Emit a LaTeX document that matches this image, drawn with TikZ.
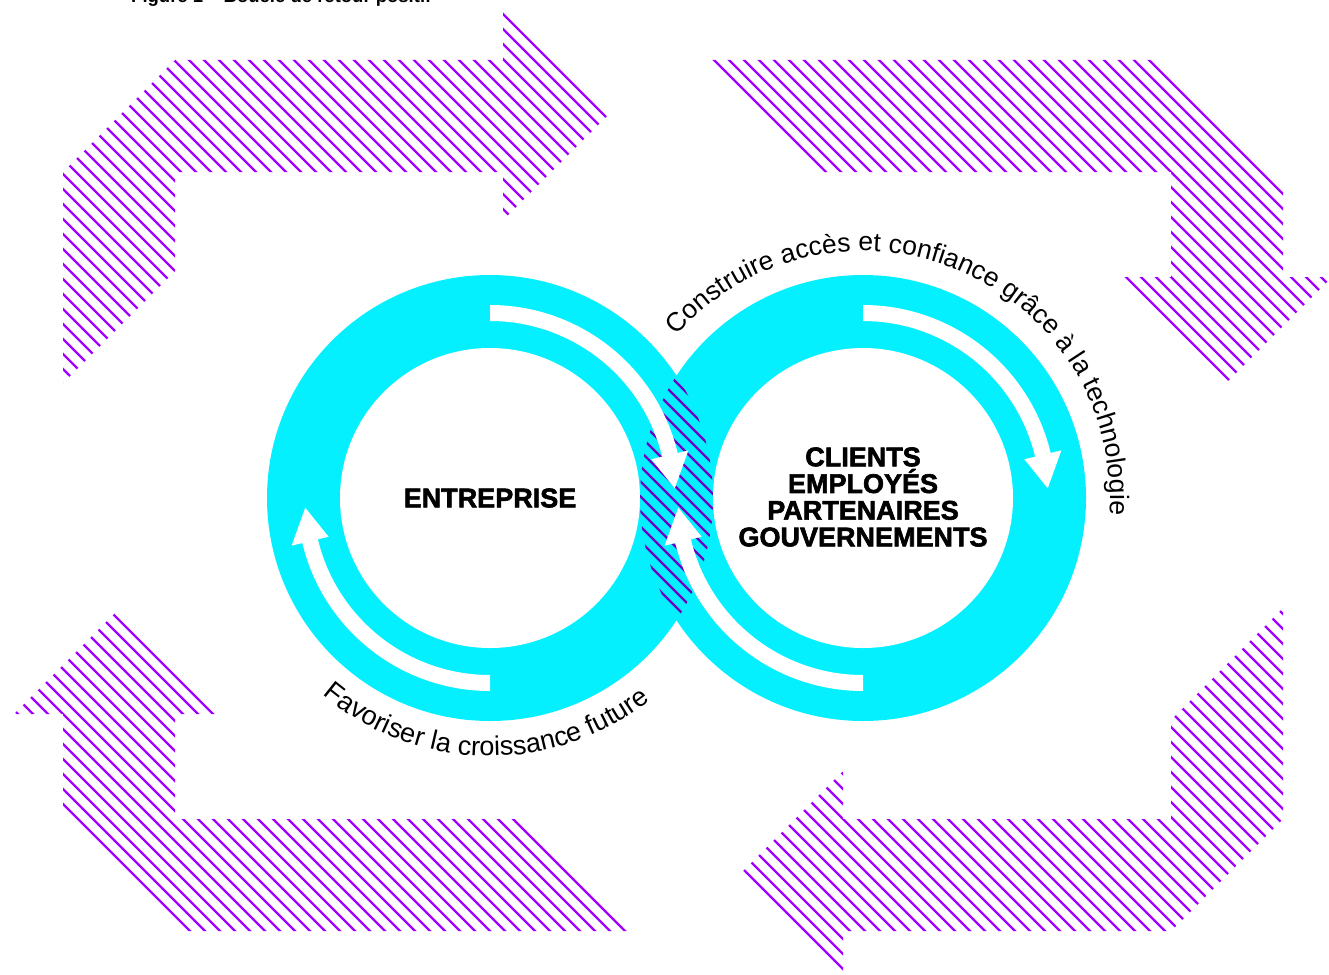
\documentclass[tikz,border=0pt]{standalone}
\usepackage{fontspec}
\setmainfont{Liberation Sans}
\newfontfamily\heavyfont[FakeBold=2.2]{Liberation Sans Bold}
\usetikzlibrary{decorations.text}
\definecolor{loopcyan}{RGB}{5,240,255}
\definecolor{looppurple}{RGB}{161,0,255}
\definecolor{lenspurple}{RGB}{112,0,196}

\begin{document}
\begin{tikzpicture}[x=1pt, y=-1pt,
    hatch/.style={line width=2.2pt},
    ringtext/.style={font=\heavyfont\fontsize{27}{26.7}\selectfont, inner sep=0pt},
    looptext/.style 2 args={decorate, decoration={text along path, text align=center, text={|\fontsize{#1}{#1}\selectfont|#2}}}]
	\useasboundingbox[fill=white] (0,0) rectangle (1329,974);
	% Title, cut off at the top
	\node[anchor=base west, inner sep=0pt, font=\bfseries\fontsize{18.5}{18.5}\selectfont] (title) at (131,3) {Figure 1 – Boucle de retour positif};
	% Hatched arrows
	\begin{scope}
		\clip (63,383) -- (63,172) -- (175,60) -- (503,60) -- (503,12) -- (607,116) -- (503,220) -- (503,172) -- (175,172) -- (175,271) -- cycle
		      (711,60) -- (1160,60) -- (1283,183) -- (1283,277) -- (1332,277) -- (1227,382) -- (1122,277) -- (1171,277) -- (1171,172) -- (823,172) -- cycle
		      (1283,608) -- (1283,819) -- (1171,931) -- (843,931) -- (843,979) -- (739,875) -- (843,771) -- (843,819) -- (1171,819) -- (1171,720) -- cycle
		      (635,931) -- (186,931) -- (63,808) -- (63,714) -- (14,714) -- (119,609) -- (224,714) -- (175,714) -- (175,819) -- (523,819) -- cycle;
		\foreach \k in {-756,-741,...,1120}
			\draw[hatch, looppurple] (\k,0) -- ++(990,990);
	\end{scope}
	% Rings
	\fill[loopcyan] (490,498) circle[radius=223] (863,498) circle[radius=223];
	\fill[white] (490,498) circle[radius=150] (863,498) circle[radius=150];
	% Overlap of the rings
	\begin{scope}
		\clip (490,498) circle[radius=223];
		\clip (863,498) circle[radius=223];
		\foreach \k in {9,24,...,345}
			\draw[hatch, lenspurple] (\k,0) -- ++(990,990);
	\end{scope}
	% White arrows in the rings
	\foreach \cx in {490,863}
		\foreach \turn in {0,180}
			\fill[white, shift={(\cx,498)}, rotate=\turn] (-90:193) arc[start angle=-90, end angle=-13.5, radius=193]
				-- (-13.5:204) -- (-3:185) -- (-13.5:166) -- (-13.5:177) arc[start angle=-13.5, end angle=-90, radius=177] -- cycle;
	% Names
	\node[ringtext] (entreprise) at (490,498) {ENTREPRISE};
	\node[ringtext, align=center] (parties) at (863,497) {CLIENTS\\EMPLOYÉS\\PARTENAIRES\\GOUVERNEMENTS};
	% Curved labels
	\path[looptext={26.5}{Construire accès et confiance grâce à la technologie}] ([shift={(863,498)}]-157.5:247) arc[start angle=-157.5, end angle=22.5, radius=247];
	\path[looptext={27}{Favoriser la croissance future}] ([shift={(490,498)}]-179:258) arc[start angle=-179, end angle=-359, radius=258];
\end{tikzpicture}
\end{document}
